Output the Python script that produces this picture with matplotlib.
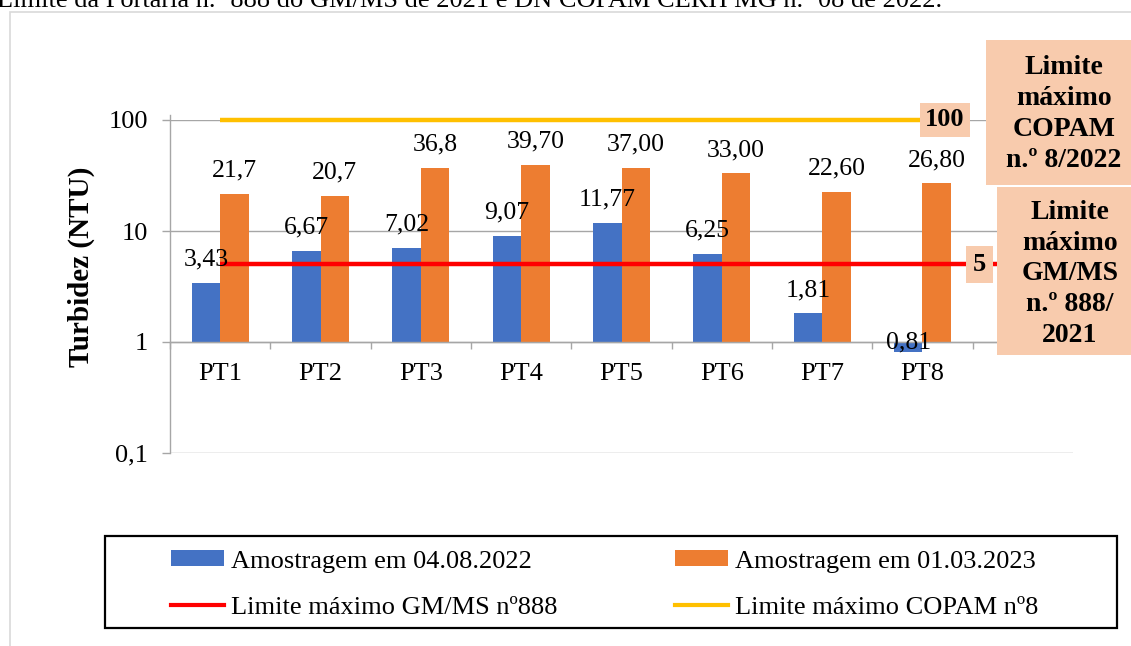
import matplotlib
matplotlib.use('Agg')
import matplotlib.pyplot as plt
import numpy as np
from matplotlib.patches import Rectangle, Patch
from matplotlib.lines import Line2D
from matplotlib.ticker import FixedLocator, NullLocator

plt.rcParams['font.family'] = ['Liberation Serif', 'DejaVu Serif']

# ---------------- data ----------------
categories = ['PT1', 'PT2', 'PT3', 'PT4', 'PT5', 'PT6', 'PT7', 'PT8']
amostra_2022 = [3.43, 6.67, 7.02, 9.07, 11.77, 6.25, 1.81, 0.81]
amostra_2023 = [21.7, 20.7, 36.8, 39.70, 37.00, 33.00, 22.60, 26.80]
labels_2022 = ['3,43', '6,67', '7,02', '9,07', '11,77', '6,25', '1,81', '0,81']
labels_2023 = ['21,7', '20,7', '36,8', '39,70', '37,00', '33,00', '22,60', '26,80']
limite_gmms = 5
limite_copam = 100
ytick_vals = [0.1, 1, 10, 100]
ytick_labels = ['0,1', '1', '10', '100']
series_names = ['Amostragem em 04.08.2022', 'Amostragem em 01.03.2023',
                'Limite máximo GM/MS nº888', 'Limite máximo COPAM nº8']
caption = 'Limite da Portaria n.º 888 do GM/MS de 2021 e DN COPAM CERH MG n.º 08 de 2022.'
box_copam = 'Limite\nmáximo\nCOPAM\nn.º 8/2022'
box_gmms = 'Limite\nmáximo\nGM/MS\nn.º 888/\n2021'
ylabel = 'Turbidez (NTU)'

# ---------------- style ----------------
BLUE = '#4472C4'
ORANGE = '#ED7D31'
RED = '#FF0000'
YELLOW = '#FFC000'
PEACH = '#F8CBAD'
GRID = '#A6A6A6'

W, H = 1131, 646
fig = plt.figure(figsize=(W / 100, H / 100), dpi=100)


def fx(px):
    return px / W


def fy(py):
    return 1 - py / H


ax = fig.add_axes([fx(170), fy(453), fx(1073) - fx(170), fy(120) - fy(453)])

n = len(categories)
x = np.arange(n)
bw = 0.285
ax.bar(x - bw / 2, np.array(amostra_2022) - 1, bottom=1, width=bw, color=BLUE, zorder=2)
ax.bar(x + bw / 2, np.array(amostra_2023) - 1, bottom=1, width=bw, color=ORANGE, zorder=2)

# limit lines (red spans all 9 category slots, yellow the 8 points)
x_red = np.arange(n + 1)
ax.plot(x_red, [limite_gmms] * len(x_red), color=RED, lw=3.2, zorder=3, solid_capstyle='butt')
ax.plot(x, [limite_copam] * n, color=YELLOW, lw=3.2, zorder=3, solid_capstyle='butt', clip_on=False)

ax.set_yscale('log')
ax.set_ylim(0.1, 100)
ax.set_xlim(-0.5, n + 0.5)
ax.yaxis.set_major_locator(FixedLocator(ytick_vals))
ax.yaxis.set_minor_locator(NullLocator())
ax.set_yticklabels(ytick_labels)
ax.tick_params(axis='y', which='major', length=6, width=1, color=GRID, pad=10, labelsize=19)
ax.grid(axis='y', which='major', color=GRID, lw=1)
ax.set_axisbelow(True)

ax.set_xticks(np.arange(-0.5, n + 1, 1))
ax.set_xticks(x, labels=categories, minor=True)
ax.tick_params(axis='x', which='major', length=5, width=1, color=GRID, labelbottom=False)
ax.tick_params(axis='x', which='minor', length=0, pad=15, labelsize=19)

for s in ['top', 'right']:
    ax.spines[s].set_visible(False)
ax.spines['left'].set_color(GRID)
ax.spines['bottom'].set_color(GRID)
ax.spines['bottom'].set_position(('data', 1))
ax.spines['left'].set_linewidth(1)
ax.spines['bottom'].set_linewidth(1)
ax.spines['left'].set_bounds(0.1, 110)

# data labels
for xi, v, lb in zip(x - bw / 2, amostra_2022, labels_2022):
    if v >= 1:
        ax.annotate(lb, (xi, v), xytext=(0, 12.5), textcoords='offset points',
                    ha='center', va='baseline', fontsize=18.5, zorder=5)
    else:
        ax.annotate(lb, (xi, 1), xytext=(0, -5), textcoords='offset points',
                    ha='center', va='baseline', fontsize=18.5, zorder=5)
for xi, v, lb in zip(x + bw / 2, amostra_2023, labels_2023):
    ax.annotate(lb, (xi, v), xytext=(0, 12.5), textcoords='offset points',
                ha='center', va='baseline', fontsize=18.5, zorder=5)

# labels on the limit lines
ax.annotate(str(limite_copam), (x[-1], limite_copam), xytext=(16, 0), textcoords='offset points',
            ha='center', va='center', fontsize=19, fontweight='bold', zorder=6,
            bbox=dict(boxstyle='square,pad=0.2', fc=PEACH, ec='none'), annotation_clip=False)
ax.annotate(str(limite_gmms), (x[-1], limite_gmms), xytext=(41, 0), textcoords='offset points',
            ha='center', va='center', fontsize=19, fontweight='bold', zorder=6,
            bbox=dict(boxstyle='square,pad=0.25', fc=PEACH, ec='none'), annotation_clip=False)

# outer chart border
fig.patches.append(Rectangle((fx(10), fy(700)), fx(1200) - fx(10), fy(12) - fy(700),
                             transform=fig.transFigure, fill=False, ec='#D9D9D9', lw=1.2, zorder=0.5))

# big callout boxes
fig.patches.append(Rectangle((fx(986), fy(185)), fx(1140) - fx(986), fy(40) - fy(185),
                             transform=fig.transFigure, fc=PEACH, ec='none', zorder=2))
fig.patches.append(Rectangle((fx(997), fy(355)), fx(1140) - fx(997), fy(187) - fy(355),
                             transform=fig.transFigure, fc=PEACH, ec='none', zorder=2))
fig.text(fx(1064), fy(114), box_copam, ha='center', va='center', fontsize=20,
         fontweight='bold', linespacing=1.3, zorder=4)
fig.text(fx(1070), fy(274), box_gmms, ha='center', va='center', fontsize=20,
         fontweight='bold', linespacing=1.3, zorder=4)

# y label
fig.text(fx(81), fy(267), ylabel, rotation=90, ha='center', va='center',
         fontsize=21, fontweight='bold')

# clipped caption at the top
fig.text(fx(-3), fy(7), caption, ha='left', va='baseline', fontsize=19)

# legend
handles = [Patch(facecolor=BLUE), Line2D([], [], color=RED, lw=3),
           Patch(facecolor=ORANGE), Line2D([], [], color=YELLOW, lw=3)]
labels = [series_names[0], series_names[2], series_names[1], series_names[3]]
fig.legend(handles, labels, ncol=2, loc='center', bbox_to_anchor=(fx(605), fy(584.5)),
           frameon=False, fontsize=19, handlelength=2.0, handleheight=0.55,
           handletextpad=0.27, columnspacing=4.45, labelspacing=0.9, borderpad=0)
fig.patches.append(Rectangle((fx(105), fy(628)), fx(1117) - fx(105), fy(536) - fy(628),
                             transform=fig.transFigure, fill=False, ec='black', lw=1.6, zorder=3))

fig.savefig('out.png', dpi=100)
